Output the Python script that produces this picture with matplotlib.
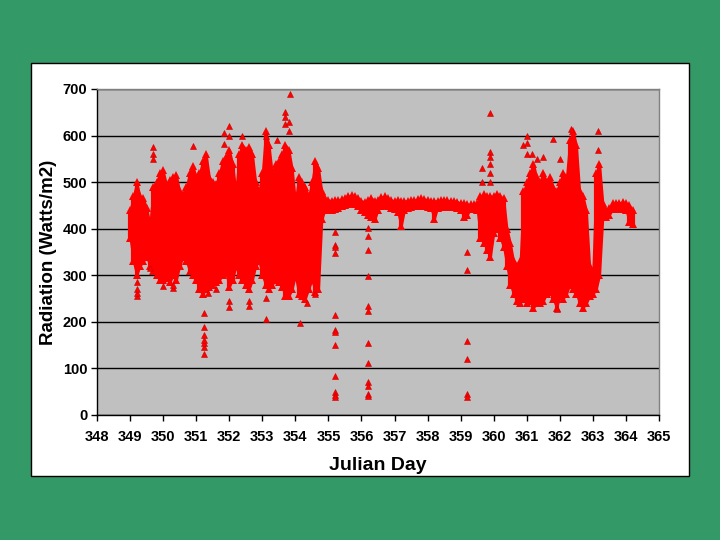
import matplotlib
matplotlib.use("Agg")
import matplotlib.pyplot as plt
from matplotlib.patches import Rectangle
import numpy as np

# Dense band envelope: Julian day, lower and upper edge of the point cloud (W/m2)
band_day = [349.0, 349.1, 349.2, 349.3, 349.4, 349.5, 349.6, 349.7, 349.8, 349.9,
            350.0, 350.1, 350.2, 350.3, 350.4, 350.5, 350.6, 350.7, 350.8, 350.9,
            351.0, 351.1, 351.2, 351.3, 351.4, 351.5, 351.6, 351.7, 351.8, 351.9,
            352.0, 352.1, 352.2, 352.3, 352.4, 352.5, 352.6, 352.7, 352.8, 352.9,
            353.0, 353.1, 353.2, 353.3, 353.4, 353.5, 353.6, 353.7, 353.8, 353.9,
            354.0, 354.1, 354.2, 354.3, 354.4, 354.5, 354.6, 354.7, 354.8, 354.9,
            355.0, 355.1, 355.2, 355.3, 355.4, 355.5, 355.6, 355.7, 355.8, 355.9,
            356.0, 356.1, 356.2, 356.3, 356.4, 356.5, 356.6, 356.7, 356.8, 356.9,
            357.0, 357.1, 357.2, 357.3, 357.4, 357.5, 357.6, 357.7, 357.8, 357.9,
            358.0, 358.1, 358.2, 358.3, 358.4, 358.5, 358.6, 358.7, 358.8, 358.9,
            359.0, 359.1, 359.2, 359.3, 359.4, 359.5, 359.6, 359.7, 359.8, 359.9,
            360.0, 360.1, 360.2, 360.3, 360.4, 360.5, 360.6, 360.7, 360.8, 360.9,
            361.0, 361.1, 361.2, 361.3, 361.4, 361.5, 361.6, 361.7, 361.8, 361.9,
            362.0, 362.1, 362.2, 362.3, 362.4, 362.5, 362.6, 362.7, 362.8, 362.9,
            363.0, 363.1, 363.2, 363.3, 363.4, 363.5, 363.6, 363.7, 363.8, 363.9,
            364.0, 364.1, 364.2]
band_lo = [380, 330, 300, 320, 330, 340, 320, 310, 300, 290,
           290, 295, 285, 300, 290, 320, 340, 330, 310, 300,
           290, 270, 260, 270, 275, 280, 285, 290, 300, 305,
           275, 290, 320, 300, 290, 280, 270, 290, 320, 330,
           300, 280, 270, 280, 290, 285, 275, 255, 255, 270,
           300, 260, 255, 250, 270, 290, 265, 270, 420, 442,
           440, 440, 442, 445, 448, 450, 452, 455, 453, 448,
           440, 435, 430, 425, 420, 440, 448, 450, 448, 445,
           443, 435, 405, 440, 445, 447, 448, 448, 449, 448,
           447, 445, 420, 445, 447, 446, 446, 446, 446, 445,
           440, 425, 430, 443, 443, 440, 380, 370, 355, 340,
           390, 400, 380, 360, 320, 280, 260, 245, 240, 250,
           240, 245, 230, 240, 240, 245, 260, 265, 250, 230,
           255, 250, 260, 280, 270, 260, 240, 230, 240, 255,
           260, 270, 300, 425, 425, 430, 442, 442, 443, 443,
           440, 415, 410]
band_hi = [440, 470, 500, 470, 465, 445, 410, 490, 500, 520,
           525, 495, 505, 510, 515, 480, 475, 490, 520, 535,
           510, 520, 545, 560, 510, 500, 495, 520, 545, 555,
           570, 540, 480, 560, 580, 570, 575, 560, 500, 480,
           520, 610, 580, 520, 540, 545, 560, 580, 570, 530,
           460, 510, 500, 490, 470, 500, 545, 530, 480, 465,
           462, 460, 462, 462, 464, 466, 470, 472, 470, 465,
           460, 458, 462, 466, 460, 462, 468, 470, 466, 462,
           460, 462, 460, 460, 460, 462, 462, 463, 465, 464,
           462, 460, 460, 460, 462, 462, 461, 460, 460, 458,
           455, 455, 453, 452, 452, 455, 470, 475, 470, 470,
           470, 475, 470, 465, 400, 370, 330, 320, 330, 480,
           500, 520, 540, 510, 500, 520, 500, 510, 490, 480,
           500, 520, 510, 590, 610, 580, 480, 470, 440, 320,
           310, 520, 540, 455, 440, 445, 455, 455, 456, 457,
           455, 450, 440]

# Isolated readings outside the dense band
out_day = [349.2, 349.2, 349.2, 349.2, 349.6, 349.7, 349.7, 349.7, 350.0, 350.3, 350.3,
           350.9, 351.25, 351.25, 351.25, 351.25, 351.25, 351.25, 351.25, 351.35, 351.6,
           351.85, 351.85, 352.0, 352.0, 352.0, 352.0, 352.4, 352.6, 352.6,
           353.1, 353.1, 353.1, 353.45, 353.7, 353.7, 353.7, 353.8, 353.8, 353.85,
           354.15, 354.35, 354.6,
           355.2, 355.2, 355.2, 355.2, 355.2, 355.2, 355.2, 355.2, 355.2, 355.2, 355.2, 355.2,
           356.2, 356.2, 356.2, 356.2, 356.2, 356.2, 356.2, 356.2, 356.2, 356.2, 356.2, 356.2,
           359.2, 359.2, 359.2, 359.2, 359.2, 359.2,
           359.65, 359.65, 359.9, 359.9, 359.9, 359.9, 359.9, 359.9,
           360.9, 361.0, 361.0, 361.0, 361.15, 361.3, 361.5, 361.8, 361.9, 362.0,
           362.35, 363.15, 363.15]
out_val = [255, 262, 270, 285, 315, 560, 575, 550, 278, 272, 280,
           578, 130, 145, 155, 160, 172, 188, 218, 262, 270,
           605, 582, 620, 600, 232, 245, 600, 235, 245,
           600, 207, 252, 590, 650, 640, 625, 610, 630, 690,
           197, 240, 260,
           393, 365, 360, 348, 214, 182, 178, 150, 84, 50, 42, 38,
           402, 384, 354, 298, 234, 224, 155, 112, 70, 63, 45, 40,
           351, 312, 158, 120, 45, 38,
           530, 500, 648, 565, 555, 540, 520, 500,
           580, 600, 585, 560, 560, 550, 555, 592, 228, 550,
           615, 610, 570]

x_ticks = list(range(348, 366))
y_ticks = [0, 100, 200, 300, 400, 500, 600, 700]

W, H = 720, 540
fig = plt.figure(figsize=(7.2, 5.4), dpi=100)
fig.patch.set_facecolor('#339966')
fig.patches.append(Rectangle((31 / W, 1 - 476 / H), (689 - 31) / W, (476 - 63) / H,
                             transform=fig.transFigure, facecolor='white',
                             edgecolor='black', linewidth=1.0, zorder=-10))

ax = fig.add_axes([97 / W, 1 - 415 / H, (659 - 97) / W, (415 - 89) / H])
ax.set_zorder(5)
ax.set_facecolor('#C0C0C0')
ax.set_xlim(348, 365)
ax.set_ylim(0, 700)
ax.set_yticks(y_ticks)
ax.set_xticks(x_ticks)
ax.yaxis.grid(True, color='black', linewidth=1.0)
ax.set_axisbelow(True)

red = '#FF0000'
ax.fill_between(band_day, band_lo, band_hi, color=red, linewidth=1.5, edgecolor=red, zorder=3)
ax.vlines(band_day, band_lo, band_hi, colors=red, linewidth=3.0, zorder=3)
ax.plot(band_day, band_hi, linestyle='none', marker='^', markersize=5.5, color=red,
        markeredgewidth=0, zorder=3)
ax.plot(band_day, band_lo, linestyle='none', marker='^', markersize=5.5, color=red,
        markeredgewidth=0, zorder=3)
ax.plot(out_day, out_val, linestyle='none', marker='^', markersize=5, color=red,
        markeredgecolor='#CC0000', markeredgewidth=0.4, zorder=4)

font = 'Liberation Sans'
for lab in ax.get_xticklabels() + ax.get_yticklabels():
    lab.set_fontfamily(font)
    lab.set_fontweight('bold')
    lab.set_fontsize(10.5)
ax.tick_params(axis='both', direction='out', length=4, width=1, color='black', pad=3)
ax.tick_params(axis='x', pad=7)

for s in ['left', 'bottom']:
    ax.spines[s].set_color('black')
    ax.spines[s].set_linewidth(1)
for s in ['top', 'right']:
    ax.spines[s].set_color('#808080')
    ax.spines[s].set_linewidth(1)

ax.set_xlabel('Julian Day', fontfamily=font, fontweight='bold', fontsize=14, labelpad=9)
ax.set_ylabel('Radiation (Watts/m2)', fontfamily=font, fontweight='bold', fontsize=13.5, labelpad=4)

fig.savefig('out.png', dpi=100, facecolor=fig.get_facecolor())
